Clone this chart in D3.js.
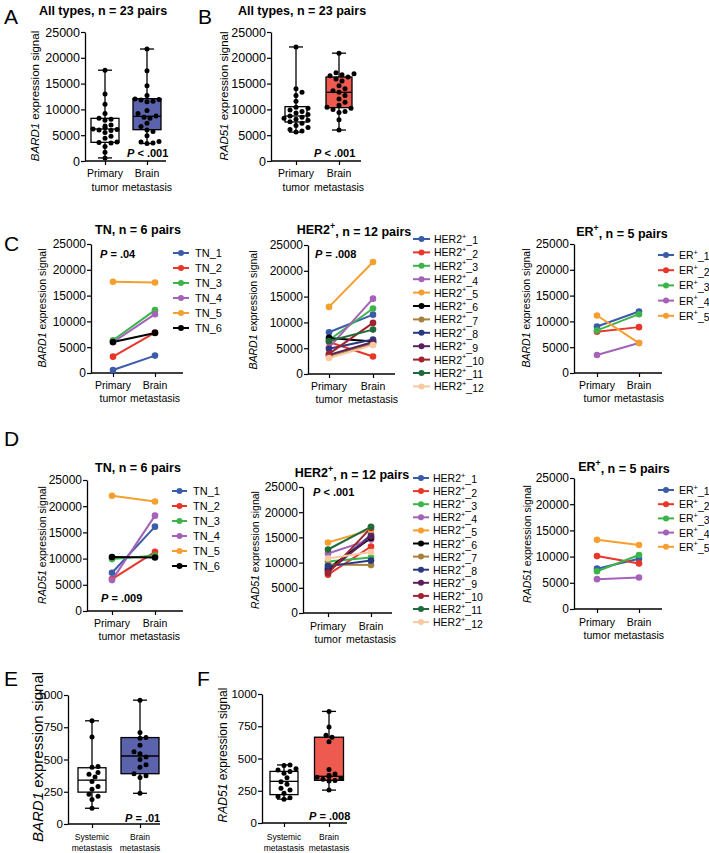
<!DOCTYPE html>
<html><head><meta charset="utf-8">
<script src="https://cdn.jsdelivr.net/npm/d3@7"></script>
<style>
body{margin:0;background:#fff}
svg{display:block}
text{font-family:"Liberation Sans",Arial,Helvetica,sans-serif;fill:#000}
</style>
</head><body>
<svg id="c" width="709" height="853"></svg>
<script>
// ---------------- DATA ----------------
const pairCats = [["Primary","tumor"],["Brain","metastasis"]];
const metCats = [["Systemic","metastasis"],["Brain","metastasis"]];
const ticks25k = [0,5000,10000,15000,20000,25000];
const ticks1k = [0,250,500,750,1000];

// Panel A - BARD1, all types
const bard1Primary = [17600,13000,11000,9200,8300,8100,7900,7000,6800,6500,6200,6100,6000,5900,5500,4800,4400,3700,3600,3500,2800,1700,600];
const bard1PrimaryBox = [600,3620,6200,8270,17600];
const bard1Brain = [21700,17500,14600,12700,12000,11900,11800,11600,11500,9800,9200,8700,8500,8300,7300,6700,6000,5700,4900,3800,3700,3500,3400];
const bard1BrainBox = [3400,6070,8660,12080,21700];

// Panel B - RAD51, all types
const rad51Primary = [22100,14000,13300,12700,11600,10400,10200,9900,9600,9300,9000,8700,8500,8300,8100,7900,7600,7300,6900,6500,6100,5800,5600];
const rad51PrimaryBox = [5600,7560,8720,10530,22100];
const rad51Brain = [20900,17100,16900,16700,16500,16300,15900,15500,14600,14000,13600,13300,12700,12000,11400,10800,10400,10200,10000,9600,9400,8000,6000];
const rad51BrainBox = [6000,10340,13310,16280,20900];

// Panel C - BARD1 paired
const tnLabels = ["TN_1","TN_2","TN_3","TN_4","TN_5","TN_6"];
const bardTNPrimary = [580,3170,6350,5960,17680,6020];
const bardTNBrain = [3370,7840,12180,11400,17550,7770];
const her2Labels = ["HER2+_1","HER2+_2","HER2+_3","HER2+_4","HER2+_5","HER2+_6","HER2+_7","HER2+_8","HER2+_9","HER2+_10","HER2+_11","HER2+_12"];
const bardHER2Primary = [8100,6200,6600,5100,13000,7000,3500,4900,3700,3900,6400,3100];
const bardHER2Brain = [11500,3400,12700,14600,21700,6300,5900,6700,6200,9900,8600,5600];
const erLabels = ["ER+_1","ER+_2","ER+_3","ER+_4","ER+_5"];
const bardERPrimary = [9020,7990,8250,3480,11150];
const bardERBrain = [11920,8890,11400,5800,5800];

// Panel D - RAD51 paired
const radTNPrimary = [7300,6100,9900,5900,22000,10300];
const radTNBrain = [16100,11300,10600,18200,20900,10200];
const radHER2Primary = [8500,7600,10200,11800,14000,8800,9600,9300,8200,7900,12600,10800];
const radHER2Brain = [15500,13200,11000,14600,16500,14900,9500,10400,15200,16900,17100,12100];
const radERPrimary = [7700,10100,7200,5700,13200];
const radERBrain = [9600,8700,10300,6000,12200];

// Panel E - BARD1 systemic vs brain
const eSystemic = [800,675,445,440,400,385,365,330,290,270,230,215,190,122];
const eSystemicBox = [122,247,340,436,800];
const eBrain = [960,710,670,665,610,560,545,520,500,460,440,390,375,360,238];
const eBrainBox = [238,390,527,670,960];

// Panel F - RAD51 systemic vs brain
const fSystemic = [450,445,420,410,400,385,350,320,300,270,255,230,205,195,185];
const fSystemicBox = [185,220,323,400,450];
const fBrain = [865,745,680,665,630,415,380,370,360,355,345,340,330,325,255];
const fBrainBox = [255,331,362,665,865];

// ---------------- STYLE ----------------
const tnColors = ["#3b5ca9","#e8362b","#3cb44b","#a462b8","#f59f2f","#000000"];
const erColors = ["#3b5ca9","#e8362b","#3cb44b","#a462b8","#f59f2f"];
const her2Colors = ["#3b5ca9","#e8362b","#3cb44b","#a462b8","#f59f2f","#000000","#a8803c","#283a80","#5a1f5c","#a0242f","#1e6b3b","#f6c9a0"];
const blueFill = "#5b63ad", redFill = "#ee5a4f";

const svg = d3.select("#c");

function addSup(sel, label) {
  const i = label.indexOf("+");
  if (i < 0) { sel.text(label); return; }
  sel.append("tspan").text(label.slice(0,i));
  sel.append("tspan").attr("dy","-0.45em").style("font-size","70%").text("+");
  sel.append("tspan").attr("dy","0.45em").text(label.slice(i+1));
}

function frame(cfg) {
  const g = svg.append("g");
  const y = d3.scaleLinear().domain([0, cfg.yMax]).range([cfg.y0, cfg.y1]);
  const x = d3.scalePoint().domain([0,1]).range([cfg.p0, cfg.p1]);
  const ya = g.append("g").attr("transform",`translate(${cfg.ax},0)`)
    .call(d3.axisLeft(y).tickValues(cfg.ticks).tickSize(4).tickSizeOuter(0).tickFormat(d3.format("d")));
  ya.selectAll("text").style("font-size", cfg.tickFs+"px").attr("fill","#000").attr("x",-5);
  ya.selectAll("line").attr("stroke","#000").attr("stroke-width",1.2);
  ya.select(".domain").attr("stroke","#000").attr("stroke-width",1.3);
  g.append("line").attr("x1",cfg.ax).attr("x2",cfg.xEnd).attr("y1",cfg.y0).attr("y2",cfg.y0)
    .attr("stroke","#000").attr("stroke-width",1.3);
  const xa = g.append("g").attr("transform",`translate(0,${cfg.y0})`)
    .call(d3.axisBottom(x).tickSize(4).tickFormat(""));
  xa.select(".domain").remove();
  xa.selectAll("line").attr("stroke","#000").attr("stroke-width",1.2);
  cfg.cats.forEach((lines,i)=>{
    lines.forEach((t,j)=>{
      g.append("text").attr("x",x(i)).attr("y",cfg.catY + j*cfg.catLh)
        .attr("text-anchor","middle").attr("dominant-baseline","central")
        .style("font-size",cfg.catFs+"px").text(t);
    });
  });
  // y label
  const yl = g.append("text").attr("transform",`translate(${cfg.lx},${cfg.ly}) rotate(-90)`)
    .attr("text-anchor","middle").attr("dominant-baseline","central").style("font-size",cfg.lFs+"px");
  yl.append("tspan").style("font-style","italic").text(cfg.gene);
  yl.append("tspan").text(" expression signal");
  if (cfg.title) {
    const t = g.append("text").attr("x",cfg.tx).attr("y",cfg.ty).attr("text-anchor","middle")
      .attr("dominant-baseline","central").style("font-size",cfg.tFs+"px").style("font-weight","bold");
    addSup(t, cfg.title);
  }
  if (cfg.p) {
    const t = g.append("text").attr("x",cfg.px).attr("y",cfg.py).attr("dominant-baseline","central")
      .style("font-size",cfg.pFs+"px").style("font-weight","bold");
    t.append("tspan").style("font-style","italic").text("P");
    t.append("tspan").text(cfg.p);
  }
  return {g,x,y};
}

function swarm(vals, y, cx, r, maxHalf) {
  const pts = vals.map(v=>({v, py:y(v)})).sort((a,b)=>b.py-a.py);
  const placed = [];
  const step = r*1.2;
  pts.forEach(p=>{
    let off = 0;
    for (let k=0;k<60;k++){
      off = k===0 ? 0 : (k%2 ? 1 : -1)*Math.ceil(k/2)*step;
      if (Math.abs(off) > maxHalf) { off = 0; break; }
      const ok = placed.every(q => Math.hypot(q.px-(cx+off), q.py-p.py) >= 2*r+0.4);
      if (ok) break;
    }
    p.px = cx+off; placed.push(p);
  });
  return placed;
}

function boxPlot(f, i, vals, stats, w, fill) {
  const {g,x,y} = f;
  const cx = x(i), cap = 14;
  const [mn,q1,md,q3,mx] = stats;
  const s = {stroke:"#000","stroke-width":1.3};
  const ln = (x1,y1,x2,y2)=>{const l=g.append("line").attr("x1",x1).attr("y1",y1).attr("x2",x2).attr("y2",y2);Object.entries(s).forEach(([k,v])=>l.attr(k,v));};
  ln(cx,y(mx),cx,y(q3)); ln(cx,y(q1),cx,y(mn));
  ln(cx-cap/2,y(mx),cx+cap/2,y(mx)); ln(cx-cap/2,y(mn),cx+cap/2,y(mn));
  g.append("rect").attr("x",cx-w/2).attr("y",y(q3)).attr("width",w).attr("height",y(q1)-y(q3))
    .attr("fill",fill).attr("stroke","#000").attr("stroke-width",1.3);
  ln(cx-w/2,y(md),cx+w/2,y(md));
  const r = 2.5;
  swarm(vals, y, cx, r, w/2+2).forEach(p=>{
    g.append("circle").attr("cx",p.px).attr("cy",p.py).attr("r",r).attr("fill","#000");
  });
}

function pairs(f, prim, brain, colors) {
  const {g,x,y} = f;
  prim.forEach((v,i)=>{
    g.append("line").attr("x1",x(0)).attr("y1",y(v)).attr("x2",x(1)).attr("y2",y(brain[i]))
      .attr("stroke",colors[i]).attr("stroke-width",2);
  });
  prim.forEach((v,i)=>{
    g.append("circle").attr("cx",x(0)).attr("cy",y(v)).attr("r",3.3).attr("fill",colors[i]);
    g.append("circle").attr("cx",x(1)).attr("cy",y(brain[i])).attr("r",3.3).attr("fill",colors[i]);
  });
}

function legend(labels, colors, lx0, lx1, tx, y0, dy, fs) {
  labels.forEach((lab,i)=>{
    const yy = y0 + i*dy;
    svg.append("line").attr("x1",lx0).attr("x2",lx1).attr("y1",yy).attr("y2",yy)
      .attr("stroke",colors[i]).attr("stroke-width",2);
    svg.append("circle").attr("cx",(lx0+lx1)/2).attr("cy",yy).attr("r",3).attr("fill",colors[i]);
    const t = svg.append("text").attr("x",tx).attr("y",yy).attr("dominant-baseline","central")
      .style("font-size",fs+"px");
    addSup(t, lab);
  });
}

function panelLetter(l, x, y) {
  svg.append("text").attr("x",x).attr("y",y).attr("dominant-baseline","central")
    .style("font-size","21px").text(l);
}

// ---------------- DRAW ----------------
const bigBase = {yMax:25000, ticks:ticks25k, tickFs:12.5, catFs:10.5, catLh:14, catY:173, lFs:11.5, tFs:12.5, pFs:11};
const pairBase = {yMax:25000, ticks:ticks25k, tickFs:12, catFs:10.5, catLh:13, lFs:10.5, tFs:12.5, pFs:11, cats:pairCats};

// A
let fA = frame({...bigBase, cats:pairCats, ax:85, xEnd:166, p0:105, p1:147, y0:161, y1:32,
  gene:"BARD1", lx:35, ly:96, title:"All types, n = 23 pairs", tx:103, ty:11, p:" < .001", px:127, py:153});
boxPlot(fA,0,bard1Primary,bard1PrimaryBox,28,"#fff");
boxPlot(fA,1,bard1Brain,bard1BrainBox,28,blueFill);
panelLetter("A",4,16);

// B
let fB = frame({...bigBase, cats:pairCats, ax:271, xEnd:361, p0:296, p1:339, y0:161, y1:32,
  gene:"RAD51", lx:224, ly:96, title:"All types, n = 23 pairs", tx:302, ty:11, p:" < .001", px:314, py:153});
boxPlot(fB,0,rad51Primary,rad51PrimaryBox,22,"#fff");
boxPlot(fB,1,rad51Brain,rad51BrainBox,26,redFill);
panelLetter("B",198,16);

// C
panelLetter("C",4,243);
let fC1 = frame({...pairBase, ax:91, xEnd:183, p0:113, p1:155, y0:373, y1:244, catY:385,
  gene:"BARD1", lx:42, ly:308, title:"TN, n = 6 pairs", tx:138, ty:230, p:" = .04", px:100, py:254});
pairs(fC1, bardTNPrimary, bardTNBrain, tnColors);
legend(tnLabels, tnColors, 173, 189, 195, 253, 15, 11);

let fC2 = frame({...pairBase, ax:308, xEnd:395, p0:329, p1:373, y0:374, y1:245, catY:386,
  gene:"BARD1", lx:253, ly:310, title:"HER2+, n = 12 pairs", tx:354, ty:230, p:" = .008", px:315, py:254});
pairs(fC2, bardHER2Primary, bardHER2Brain, her2Colors);
legend(her2Labels, her2Colors, 413, 430, 434, 239, 13.4, 10.5);

let fC3 = frame({...pairBase, ax:574, xEnd:662, p0:597, p1:639, y0:373, y1:244, catY:385,
  gene:"BARD1", lx:526, ly:308, title:"ER+, n = 5 pairs", tx:622, ty:232});
pairs(fC3, bardERPrimary, bardERBrain, erColors);
legend(erLabels, erColors, 658, 674, 679, 255, 15.2, 10.5);

// D
panelLetter("D",4,438);
let fD1 = frame({...pairBase, ax:87, xEnd:183, p0:112, p1:155, y0:611, y1:480, catY:623,
  gene:"RAD51", lx:42, ly:545, title:"TN, n = 6 pairs", tx:138, ty:468, p:" = .009", px:101, py:598});
pairs(fD1, radTNPrimary, radTNBrain, tnColors);
legend(tnLabels, tnColors, 172, 187, 193, 491, 15, 11);

let fD2 = frame({...pairBase, ax:303, xEnd:392, p0:328, p1:371, y0:613, y1:487, catY:626,
  gene:"RAD51", lx:255, ly:550, title:"HER2+, n = 12 pairs", tx:352, ty:473, p:" < .001", px:313, py:492});
pairs(fD2, radHER2Primary, radHER2Brain, her2Colors);
legend(her2Labels, her2Colors, 413, 429, 433, 478, 13.1, 10.5);

let fD3 = frame({...pairBase, ax:574, xEnd:662, p0:597, p1:639, y0:609, y1:478, catY:622,
  gene:"RAD51", lx:527, ly:544, title:"ER+, n = 5 pairs", tx:624, ty:467});
pairs(fD3, radERPrimary, radERBrain, erColors);
legend(erLabels, erColors, 658, 674, 679, 490, 14.2, 10.5);

// E
panelLetter("E",4,678);
let fE = frame({yMax:1000, ticks:ticks1k, tickFs:11.5, catFs:8.5, catLh:11, lFs:15, cats:metCats,
  ax:68, xEnd:160, p0:92, p1:140, y0:824, y1:695, catY:837,
  gene:"BARD1", lx:37, ly:757, p:" = .01", px:125, py:818, pFs:11});
boxPlot(fE,0,eSystemic,eSystemicBox,28,"#fff");
boxPlot(fE,1,eBrain,eBrainBox,38,blueFill);

// F
panelLetter("F",197,678);
let fF = frame({yMax:1000, ticks:ticks1k, tickFs:11.5, catFs:8.5, catLh:11, lFs:12, cats:metCats,
  ax:262, xEnd:347, p0:284, p1:329, y0:823, y1:694, catY:837,
  gene:"RAD51", lx:223, ly:755, p:" = .008", px:309, py:816, pFs:11});
boxPlot(fF,0,fSystemic,fSystemicBox,28,"#fff");
boxPlot(fF,1,fBrain,fBrainBox,29,redFill);
</script>
</body></html>
